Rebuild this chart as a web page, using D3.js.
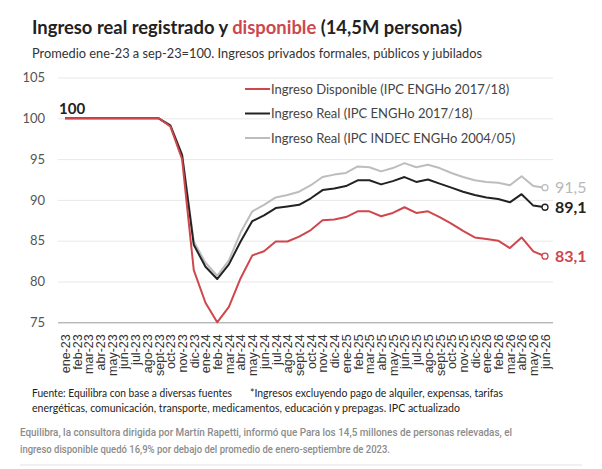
<!DOCTYPE html>
<html>
<head>
<meta charset="utf-8">
<script src="https://cdn.jsdelivr.net/npm/d3@7"></script>
<style>
  body { margin: 0; background: #fff; }
  svg { display: block; }
</style>
</head>
<body>
<script>
var w = 602;
var h = 469;

var meses = [
  "ene-23", "feb-23", "mar-23", "abr-23", "may-23", "jun-23", "jul-23", "ago-23", "sept-23", "oct-23", "nov-23", "dic-23",
  "ene-24", "feb-24", "mar-24", "abr-24", "may-24", "jun-24", "jul-24", "ago-24", "sept-24", "oct-24", "nov-24", "dic-24",
  "ene-25", "feb-25", "mar-25", "abr-25", "may-25", "jun-25", "jul-25", "ago-25", "sept-25", "oct-25", "nov-25", "dic-25",
  "ene-26", "feb-26", "mar-26", "abr-26", "may-26", "jun-26"
];

var disponible = [100, 100, 100, 100, 100, 100, 100, 100, 100, 99.0, 95.0, 81.4,
  77.4, 75.0, 76.9, 80.4, 83.2, 83.7, 84.9, 84.9, 85.5, 86.3, 87.5, 87.6,
  87.9, 88.6, 88.6, 88.0, 88.4, 89.1, 88.4, 88.6, 87.9, 87.1, 86.2, 85.4,
  85.2, 85.0, 84.1, 85.4, 83.7, 83.1];

var realEngho = [100, 100, 100, 100, 100, 100, 100, 100, 100, 99.1, 95.5, 84.5,
  81.8, 80.3, 82.1, 84.9, 87.4, 88.1, 89.0, 89.2, 89.4, 90.2, 91.2, 91.4,
  91.7, 92.4, 92.4, 91.9, 92.3, 92.8, 92.2, 92.5, 92.0, 91.5, 91.0, 90.6,
  90.3, 90.1, 89.7, 90.7, 89.3, 89.1];

var realIndec = [100, 100, 100, 100, 100, 100, 100, 100, 100, 99.2, 95.6, 84.9,
  82.3, 80.7, 82.6, 86.0, 88.6, 89.4, 90.3, 90.6, 91.0, 91.8, 92.8, 93.1,
  93.3, 94.1, 94.0, 93.5, 93.9, 94.5, 94.0, 94.3, 93.9, 93.3, 92.8, 92.4,
  92.2, 92.1, 91.8, 92.9, 91.7, 91.5];

var yTicks = [75, 80, 85, 90, 95, 100, 105];

var series = [
  { name: "Ingreso Disponible (IPC ENGHo 2017/18)", values: disponible, color: "#d0464d", label: "83,1", labelColor: "#d0464d", weight: 700 },
  { name: "Ingreso Real (IPC ENGHo 2017/18)", values: realEngho, color: "#222222", label: "89,1", labelColor: "#222222", weight: 700 },
  { name: "Ingreso Real (IPC INDEC ENGHo 2004/05)", values: realIndec, color: "#bdbdbd", label: "91,5", labelColor: "#b8b8b8", weight: 400 }
];

var font = "Lato, 'Open Sans', sans-serif";

var svg = d3.select("body").append("svg").attr("width", w).attr("height", h);

// Title
var title = svg.append("text")
  .attr("x", 32).attr("y", 34)
  .attr("font-family", font).attr("font-weight", 700).attr("font-size", "19px")
  .attr("fill", "#222")
  .attr("textLength", 430).attr("lengthAdjust", "spacingAndGlyphs");
title.append("tspan").text("Ingreso real registrado y ");
title.append("tspan").attr("fill", "#cc474e").text("disponible");
title.append("tspan").text(" (14,5M personas)");

svg.append("text")
  .attr("x", 32).attr("y", 58)
  .attr("font-family", font).attr("font-size", "12.5px").attr("fill", "#333")
  .attr("textLength", 450).attr("lengthAdjust", "spacingAndGlyphs")
  .text("Promedio ene-23 a sep-23=100. Ingresos privados formales, públicos y jubilados");

// Scales
var x = d3.scalePoint().domain(meses).range([65, 545]);
var y = d3.scaleLinear().domain([75, 105]).range([322.3, 77.5]);

// Grid + y axis
var yAxis = svg.append("g")
  .attr("transform", "translate(58,0)")
  .call(d3.axisLeft(y).tickValues(yTicks).tickSize(-495).tickPadding(13));
yAxis.select(".domain").remove();
yAxis.selectAll(".tick line")
  .attr("stroke", function (d) { return d === 75 ? "#9a9a9a" : "#e8e8e8"; });
yAxis.selectAll(".tick text")
  .attr("font-family", font).attr("font-size", "13px").attr("fill", "#555");

// x axis
var xAxis = svg.append("g")
  .attr("transform", "translate(0,322.3)")
  .call(d3.axisBottom(x).tickSize(0).tickPadding(0));
xAxis.select(".domain").remove();
xAxis.selectAll(".tick text")
  .attr("font-family", "'Liberation Sans', Arial, sans-serif")
  .attr("font-size", "12.5px")
  .attr("fill", "#333")
  .attr("text-anchor", "end")
  .attr("dy", "0.35em")
  .attr("transform", "translate(0,12) rotate(-90)");

// Lines
var line = d3.line()
  .x(function (d, i) { return x(meses[i]); })
  .y(function (d) { return y(d); });

series.slice().reverse().forEach(function (s) {
  svg.append("path")
    .datum(s.values)
    .attr("fill", "none")
    .attr("stroke", s.color)
    .attr("stroke-width", 2)
    .attr("stroke-linejoin", "round")
    .attr("d", line);
});

// End markers and labels
series.forEach(function (s) {
  var last = s.values.length - 1;
  svg.append("circle")
    .attr("cx", x(meses[last]))
    .attr("cy", y(s.values[last]))
    .attr("r", 3)
    .attr("fill", "#fff")
    .attr("stroke", s.color)
    .attr("stroke-width", 1.3);
  svg.append("text")
    .attr("x", x(meses[last]) + 10)
    .attr("y", y(s.values[last]))
    .attr("dy", "0.36em")
    .attr("font-family", font).attr("font-size", "16px")
    .attr("font-weight", s.weight)
    .attr("fill", s.labelColor)
    .text(s.label);
});

// Start label
svg.append("text")
  .attr("x", 59).attr("y", y(100) - 4.5)
  .attr("font-family", font).attr("font-size", "15px").attr("font-weight", 700)
  .attr("fill", "#222")
  .text("100");

// Legend
var legend = svg.append("g").attr("transform", "translate(245,89)");
series.forEach(function (s, i) {
  var g = legend.append("g").attr("transform", "translate(0," + i * 24.5 + ")");
  g.append("line").attr("x1", 0).attr("x2", 25).attr("y1", 0).attr("y2", 0)
    .attr("stroke", s.color).attr("stroke-width", 2);
  g.append("text").attr("x", 26).attr("dy", "0.35em")
    .attr("font-family", font).attr("font-size", "13px").attr("fill", "#444")
    .text(s.name);
});

// Footer
svg.append("text")
  .attr("x", 32).attr("y", 397)
  .attr("font-family", font).attr("font-size", "11px").attr("fill", "#222")
  .attr("textLength", 200).attr("lengthAdjust", "spacingAndGlyphs")
  .text("Fuente: Equilibra con base a diversas fuentes");
svg.append("text")
  .attr("x", 250).attr("y", 397)
  .attr("font-family", font).attr("font-size", "11px").attr("fill", "#222")
  .attr("textLength", 253).attr("lengthAdjust", "spacingAndGlyphs")
  .text("*Ingresos excluyendo pago de alquiler, expensas, tarifas");
svg.append("text")
  .attr("x", 32).attr("y", 412)
  .attr("font-family", font).attr("font-size", "11px").attr("fill", "#222")
  .attr("textLength", 428).attr("lengthAdjust", "spacingAndGlyphs")
  .text("energéticas, comunicación, transporte, medicamentos, educación y prepagas. IPC actualizado");

// Caption
svg.append("text")
  .attr("x", 20).attr("y", 436)
  .attr("font-family", "Roboto, sans-serif").attr("font-size", "11.5px").attr("font-weight", 500)
  .attr("fill", "#8c8c8c")
  .attr("textLength", 492).attr("lengthAdjust", "spacingAndGlyphs")
  .text("Equilibra, la consultora dirigida por Martín Rapetti, informó que Para los 14,5 millones de personas relevadas, el");
svg.append("text")
  .attr("x", 20).attr("y", 453)
  .attr("font-family", "Roboto, sans-serif").attr("font-size", "11.5px").attr("font-weight", 500)
  .attr("fill", "#8c8c8c")
  .attr("textLength", 370).attr("lengthAdjust", "spacingAndGlyphs")
  .text("ingreso disponible quedó 16,9% por debajo del promedio de enero-septiembre de 2023.");

svg.append("line")
  .attr("x1", 20).attr("x2", 582).attr("y1", 465).attr("y2", 465)
  .attr("stroke", "#e2e2e2").attr("stroke-width", 1);
</script>
</body>
</html>
